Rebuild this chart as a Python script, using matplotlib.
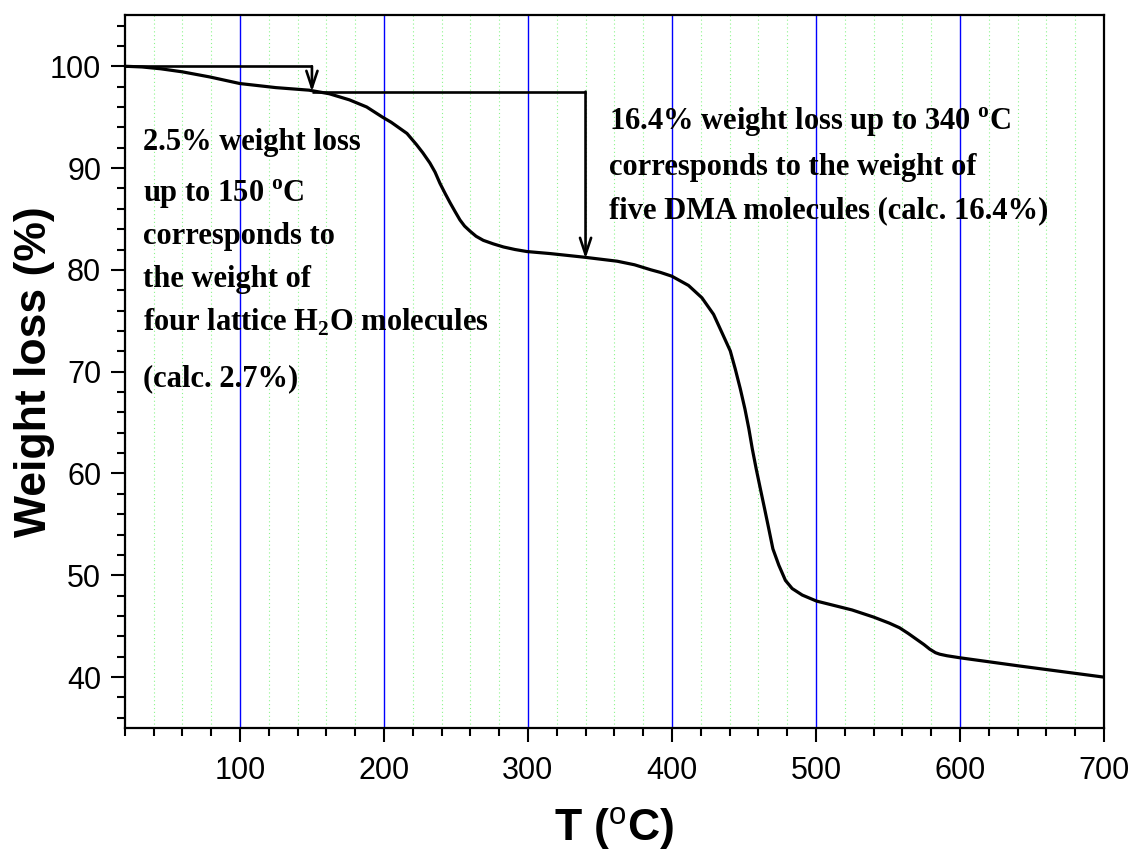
import numpy as np
import matplotlib.pyplot as plt
from matplotlib.ticker import MultipleLocator

plt.rcParams['mathtext.fontset'] = 'custom'
plt.rcParams['mathtext.rm'] = 'Liberation Serif:bold'
plt.rcParams['mathtext.sf'] = 'Liberation Sans'

# TGA curve, temperature (deg C) vs remaining weight (%)
temp = [20, 32, 45, 60, 79, 100, 125, 148, 162, 176, 188, 199, 205, 211,
        216, 222.6, 227, 231.9, 235.5, 238.9, 242.5, 245.9, 249.5, 252.8,
        256, 259.8, 264, 269, 276, 283, 291, 299.3, 315.5, 338.7, 362, 374,
        385.5, 392, 399.9, 411.5, 420.8, 428.9, 434.7, 440.5, 444, 447.5,
        450.7, 453.4, 455.8, 458.5, 461.4, 464.4, 467.2, 470.1, 474.2,
        478.8, 483.5, 490.5, 500.4, 525, 540, 551, 558, 564, 570, 575, 579,
        583, 586, 591, 600, 641, 700]
weight = [100.0, 99.93, 99.75, 99.45, 98.95, 98.3, 97.9, 97.65, 97.3, 96.7,
          96.0, 95.0, 94.5, 93.9, 93.4, 92.3, 91.5, 90.5, 89.6, 88.5, 87.5,
          86.6, 85.7, 84.9, 84.3, 83.8, 83.3, 82.9, 82.55, 82.25, 82.0, 81.8,
          81.6, 81.25, 80.85, 80.5, 80.0, 79.75, 79.38, 78.47, 77.26, 75.63,
          73.84, 72.04, 70.25, 68.3, 66.33, 64.4, 62.42, 60.46, 58.5, 56.5,
          54.6, 52.6, 51.0, 49.5, 48.7, 48.06, 47.47, 46.6, 45.9, 45.3,
          44.85, 44.3, 43.7, 43.2, 42.75, 42.4, 42.25, 42.1, 41.9, 41.1, 40.0]

# weight-loss steps marked on the curve
step_temp = [150, 340]
step_loss = [2.5, 16.4]

left_note = ['2.5% weight loss',
             r'up to 150 $^{\mathrm{o}}$C',
             'corresponds to',
             'the weight of',
             r'four lattice H$_{\mathrm{2}}$O molecules',
             '(calc. 2.7%)']
right_note = [r'16.4% weight loss up to 340 $^{\mathrm{o}}$C',
              'corresponds to the weight of',
              'five DMA molecules (calc. 16.4%)']

fig, ax = plt.subplots(figsize=(11.34, 8.52), dpi=100)
fig.subplots_adjust(left=0.110, right=0.9735, top=0.982, bottom=0.1455)

ax.set_axisbelow(True)
ax.grid(True, which='major', axis='x', color='#0000ff', linewidth=1.0,
        linestyle='-')
ax.grid(True, which='minor', axis='x', color='#8cf58c', linewidth=0.8,
        linestyle=(0, (1, 2.5)))

ax.plot(temp, weight, color='black', linewidth=2.3, zorder=3)

# step annotations: horizontal guide, then arrow down to the curve
lw = 1.9
start = 100.0
prev_t = temp[0]
for t, loss in zip(step_temp, step_loss):
    end = start - loss
    ax.plot([prev_t, t], [start, start], color='black', linewidth=lw,
            zorder=4, solid_capstyle='butt')
    ax.annotate('', xy=(t, end), xytext=(t, start),
                arrowprops=dict(arrowstyle='->, head_length=0.6, head_width=0.2',
                                color='black', linewidth=lw,
                                shrinkA=0, shrinkB=0, mutation_scale=20),
                zorder=4)
    prev_t = t
    start = end

left_y = [91.8, 86.7, 82.5, 78.3, 74.0, 68.6]
for s, y in zip(left_note, left_y):
    ax.text(32.5, y, s, fontsize=22, fontweight='bold',
            family='Liberation Serif', va='baseline', ha='left', zorder=5)

right_y = [93.7, 89.3, 85.1]
for s, y in zip(right_note, right_y):
    ax.text(356, y, s, fontsize=22, fontweight='bold',
            family='Liberation Serif', va='baseline', ha='left', zorder=5)

ax.set_xlim(20, 700)
ax.set_ylim(35, 105)
ax.xaxis.set_major_locator(MultipleLocator(100))
ax.xaxis.set_minor_locator(MultipleLocator(20))
ax.yaxis.set_major_locator(MultipleLocator(10))
ax.yaxis.set_minor_locator(MultipleLocator(2))
ax.set_xticks([100, 200, 300, 400, 500, 600, 700])
ax.set_yticks([40, 50, 60, 70, 80, 90, 100])

for sp in ax.spines.values():
    sp.set_linewidth(1.6)

ax.tick_params(which='both', direction='out', top=False, right=False,
               width=1.5, labelsize=22)
ax.tick_params(which='major', length=10)
ax.tick_params(axis='x', which='major', pad=10)
ax.tick_params(axis='y', which='major', pad=7)
ax.tick_params(which='minor', length=5.5)
for lab in ax.get_xticklabels() + ax.get_yticklabels():
    lab.set_family('Liberation Sans')

ax.set_xlabel(r'T ($^{\mathsf{o}}$C)', fontsize=32, fontweight='bold',
              family='Liberation Sans', labelpad=14)
ax.set_ylabel('Weight loss (%)', fontsize=32, fontweight='bold',
              family='Liberation Sans')
ax.yaxis.set_label_coords(-0.071, 0.5)

fig.savefig('out.png', dpi=100)
